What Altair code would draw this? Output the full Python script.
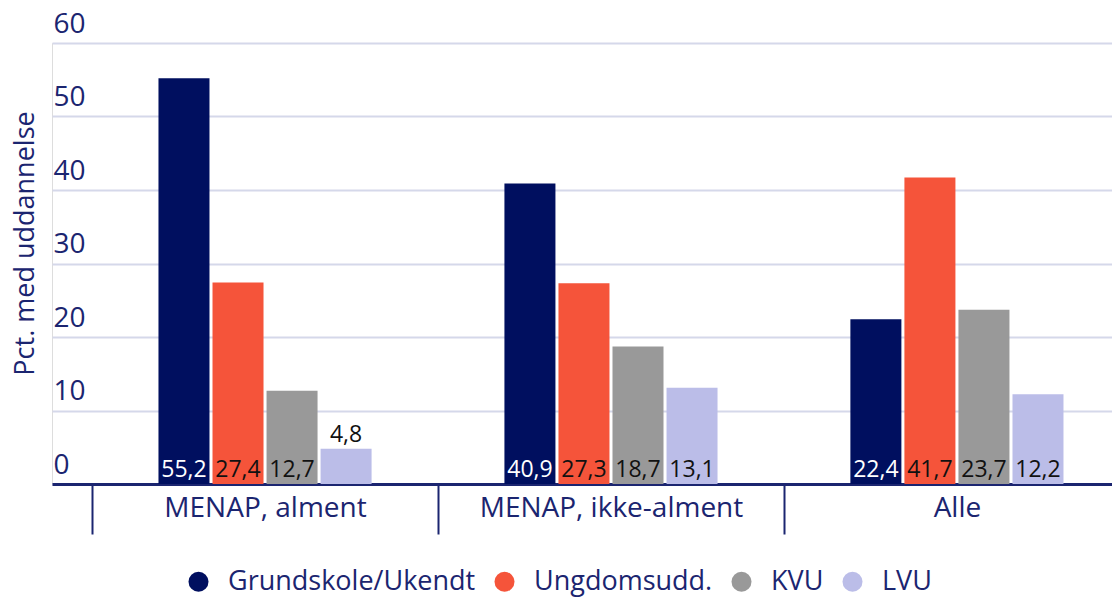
import altair as alt
import pandas as pd

groups = ["MENAP, alment", "MENAP, ikke-alment", "Alle"]
series = ["Grundskole/Ukendt", "Ungdomsudd.", "KVU", "LVU"]
values = {
    "Grundskole/Ukendt": [55.2, 40.9, 22.4],
    "Ungdomsudd.": [27.4, 27.3, 41.7],
    "KVU": [12.7, 18.7, 23.7],
    "LVU": [4.8, 13.1, 12.2],
}
bar_colors = ["#000f5f", "#f5543a", "#999999", "#bbbde8"]
text_colors = ["#ffffff", "#111111", "#111111", "#111111"]
y_title = "Pct. med uddannelse"

rows = []
for s in series:
    for g, v in zip(groups, values[s]):
        rows.append({"group": g, "series": s, "value": v})
df = pd.DataFrame(rows)

NAVY = "#1b2570"
FONT = "Open Sans"

x_enc = alt.X("group:N", sort=groups, title=None,
              scale=alt.Scale(paddingInner=0.384, paddingOuter=0.224, align=0.687),
              axis=alt.Axis(labelAngle=0, labelFontSize=28, labelColor=NAVY, labelFont=FONT,
                            labelLimit=0,
                            domainColor=NAVY, domainWidth=3, ticks=True, bandPosition=0,
                            tickOffset=-66.5, labelOffset=66.5,
                            tickSize=50, tickColor=NAVY, tickWidth=2, labelPadding=-40,
                            labelBaseline="top"))
xo_enc = alt.XOffset("series:N", sort=series,
                     scale=alt.Scale(paddingInner=0.056, paddingOuter=0))
y_scale = alt.Scale(domain=[0, 60], nice=False)

base = alt.Chart(df)

bars = base.mark_bar().encode(
    x=x_enc,
    xOffset=xo_enc,
    y=alt.Y("value:Q", scale=y_scale, title=y_title,
            axis=alt.Axis(values=[0, 10, 20, 30, 40, 50, 60], domain=False, ticks=False, tickSize=0,
                          labelAlign="left", labelBaseline="bottom", labelPadding=-1, labelOffset=-5,
                          labelFontSize=28, labelColor=NAVY, labelFont=FONT,
                          gridColor="#d5d8ea", gridWidth=2,
                          titleFontSize=27, titleFont=FONT, titleColor=NAVY, titleFontWeight="normal",
                          titleX=-19, titleY=200, titleAngle=-90, titleAlign="center",
                          titleBaseline="alphabetic")),
    color=alt.Color("series:N", sort=series,
                    scale=alt.Scale(domain=series, range=bar_colors),
                    legend=alt.Legend(title=None, orient="none", direction="horizontal",
                                      legendX=133, legendY=525, symbolType="circle",
                                      symbolSize=400, symbolStrokeWidth=0, labelFontSize=27,
                                      labelColor=NAVY, labelFont=FONT, columnPadding=15,
                                      labelOffset=16, labelLimit=0)),
)

labels = base.transform_calculate(
    label="replace(format(datum.value, '.1f'), '.', ',')",
    label_y="datum.value < 8 ? datum.value : 0",
).mark_text(baseline="alphabetic", dy=-7, fontSize=23, font=FONT).encode(
    x=alt.X("group:N", sort=groups),
    xOffset=alt.XOffset("series:N", sort=series),
    y=alt.Y("label_y:Q", scale=y_scale),
    text="label:N",
    color=alt.Color("series:N", scale=alt.Scale(domain=series, range=text_colors), legend=None),
)

chart = alt.layer(bars, labels).resolve_scale(color="independent").properties(
    width=1060, height=441,
    autosize=alt.AutoSizeParams(type="none"),
    padding={"left": 44, "top": 35, "right": 0, "bottom": 113},
).configure_view(stroke=None).configure(font=FONT)

chart.save("out.html", embed_options={"renderer": "svg", "actions": False})
